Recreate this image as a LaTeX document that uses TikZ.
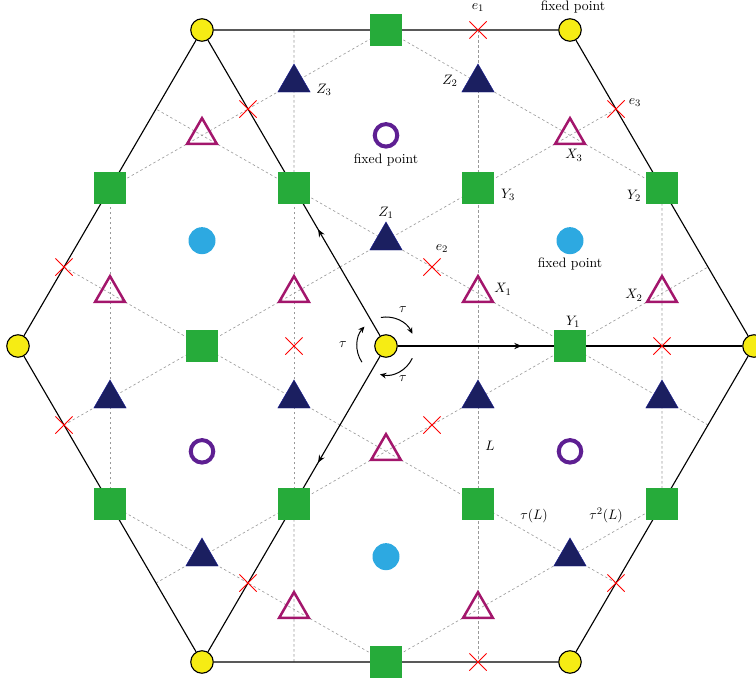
\documentclass[tikz,border=0pt,11pt]{standalone}
\usepackage{amsmath}
\usetikzlibrary{calc}
\usetikzlibrary{positioning}
\usetikzlibrary{shapes.geometric}
\usetikzlibrary{shapes.misc}
\usetikzlibrary{decorations.markings}
\usetikzlibrary{arrows.meta}
\usetikzlibrary{backgrounds}

\definecolor{fixyellow}{RGB}{246,236,20}
\definecolor{sqgreen}{RGB}{38,171,58}
\definecolor{trinavy}{RGB}{27,31,96}
\definecolor{trimagenta}{RGB}{163,22,108}
\definecolor{ringpurple}{RGB}{94,31,146}
\definecolor{dotcyan}{RGB}{45,169,225}

\begin{document}
\begin{tikzpicture}[x=0.8pt, y=0.8pt]
	\tikzstyle{fixnode}=[circle, draw=black, line width=0.9pt, fill=fixyellow, minimum size=18pt, inner sep=0pt]
	\tikzstyle{sqnode}=[rectangle, fill=sqgreen, minimum size=25.6pt, inner sep=0pt]
	\tikzstyle{znode}=[regular polygon, regular polygon sides=3, fill=trinavy, draw=trinavy!70!blue, line width=0.3pt, minimum size=30pt, inner sep=0pt]
	\tikzstyle{xnode}=[regular polygon, regular polygon sides=3, draw=trimagenta, line width=2pt, minimum size=27.5pt, inner sep=0pt]
	\tikzstyle{ringnode}=[circle, draw=ringpurple, line width=3.2pt, minimum size=18pt, inner sep=0pt]
	\tikzstyle{dotnode}=[circle, fill=dotcyan, minimum size=21.6pt, inner sep=0pt]
	\tikzstyle{crossnode}=[cross out, draw=red, line width=0.8pt, minimum size=13pt, inner sep=0pt]
	\tikzstyle{gridline}=[gray!80, line width=0.5pt, dash pattern=on 2pt off 2pt]
	\tikzstyle{rimline}=[black, line width=0.9pt]
	\tikzstyle{tauarrow}=[-{Stealth[length=5pt,width=4.5pt]}, line width=0.8pt]

	\useasboundingbox (-386,-335) rectangle (370,346);

	\node (c) at (0,0) [fixnode] {};

	% one rhombus of the torus, turned three times round c
	\foreach \k/\ux/\uy/\vx/\vy in {0/294.4pt/0pt/-147.2pt/252.8pt, 1/-147.2pt/252.8pt/-147.2pt/-252.8pt, 2/-147.2pt/-252.8pt/294.4pt/0pt}{
		\begin{scope}[x={(\ux,\uy)}, y={(\vx,\vy)}]
			\coordinate (a\k1) at (0.25,1);
			\coordinate (a\k2) at (0.25,0);
			\coordinate (a\k3) at (0,0.75);
			\coordinate (a\k4) at (0,0.25);
			\coordinate (a\k5) at (1,0.25);
			\coordinate (a\k6) at (0.5,0);

			\node (s\k1) at (0,0.5) [sqnode] {};
			\node (s\k2) at (0.5,0.5) [sqnode] {};
			\node (s\k3) at (0.5,1) [sqnode] {};
			\node (s\k4) at (1,0.5) [sqnode] {};

			\node (x\k1) at (0.75,0) [crossnode] {};
			\node (x\k2) at (0.75,1) [crossnode] {};
			\node (x\k3) at (0.25,0.25) [crossnode] {};
			\node (x\k4) at (1,0.75) [crossnode] {};

			\node (n\k1) at (1/6,1/3) [znode] {};
			\node (n\k2) at (2/3,5/6) [znode] {};
			\node (n\k3) at (1/6,5/6) [znode] {};

			\node (m\k1) at (1/3,1/6) [xnode] {};
			\node (m\k2) at (5/6,1/6) [xnode] {};
			\node (m\k3) at (5/6,2/3) [xnode] {};

			\node (f\k) at (1/3,2/3) [ringnode] {};
			\node (d\k) at (2/3,1/3) [dotnode] {};

			\node (p\k) at (1,0) [fixnode] {};
			\node (q\k) at (1,1) [fixnode] {};

			\begin{scope}[on background layer]
				\draw[gridline] (a\k1) -- (s\k1.center);
				\draw[gridline] (x\k2.center) -- (a\k2);
				\draw[gridline] (s\k4.center) -- (x\k1.center);
				\draw[gridline] (s\k3.center) -- (s\k4.center);
				\draw[gridline] (s\k1.center) -- (a\k6);
				\draw[gridline] (a\k3) -- (s\k3.center);
				\draw[gridline] (a\k4) -- (x\k4.center);
				\draw[gridline] (a\k6) -- (a\k5);
			\end{scope}
		\end{scope}
	}

	% sides of the rhombi
	\foreach \k/\nk in {0/1,1/2,2/0}{
		\begin{scope}[on background layer]
			\draw[rimline, postaction={decorate}, decoration={markings, mark=at position 0.36 with {\arrow{Stealth[length=6pt,width=5pt]}}}] (c) -- (p\k);
			\draw[rimline] (p\k) -- (q\k) -- (p\nk);
		\end{scope}
	}

	% tau round the centre
	\draw[tauarrow] ($(c)+(100:23.2pt)$) arc[start angle=100, end angle=25, radius=23.2pt];
	\draw[tauarrow] ($(c)+(214:23.2pt)$) arc[start angle=214, end angle=138, radius=23.2pt];
	\draw[tauarrow] ($(c)+(335:23.2pt)$) arc[start angle=335, end angle=258, radius=23.2pt];
	\node (tau1) at ($(c)+(17,36)$) {$\tau$};
	\node (tau2) at ($(c)+(-43,1)$) {$\tau$};
	\node (tau3) at ($(c)+(17,-33)$) {$\tau$};

	% labels
	\node (lq) at ($(q0)+(3,23)$) {fixed point};
	\node (lf) at ($(f0)+(0,-25)$) {fixed point};
	\node (ld) at ($(d0)+(0,-23)$) {fixed point};
	\node (le1) at ($(x02)+(0,22)$) {$e_1$};
	\node (le2) at ($(x03)+(10,18)$) {$e_2$};
	\node (le3) at ($(x04)+(19,6)$) {$e_3$};
	\node (lz1) at ($(n01)+(0,28)$) {$Z_1$};
	\node (lz2) at ($(n02)+(-28,2)$) {$Z_2$};
	\node (lz3) at ($(n03)+(30,-7)$) {$Z_3$};
	\node (lx1) at ($(m01)+(25,4)$) {$X_1$};
	\node (lx2) at ($(m02)+(-28,-2)$) {$X_2$};
	\node (lx3) at ($(m03)+(4,-20)$) {$X_3$};
	\node (ly1) at ($(s21)+(3,24)$) {$Y_1$};
	\node (ly2) at ($(s04)+(-28,-8)$) {$Y_2$};
	\node (ly3) at ($(s02)+(30,-7)$) {$Y_3$};
	\node (ll) at ($(n21)!0.45!(s22)+(12,0)$) {$L$};
	\node (ltl) at ($(s22)!0.5!(n22)+(10,14)$) {$\tau(L)$};
	\node (lttl) at ($(n22)!0.5!(s23)+(-10,15)$) {$\tau^2(L)$};
\end{tikzpicture}
\end{document}
